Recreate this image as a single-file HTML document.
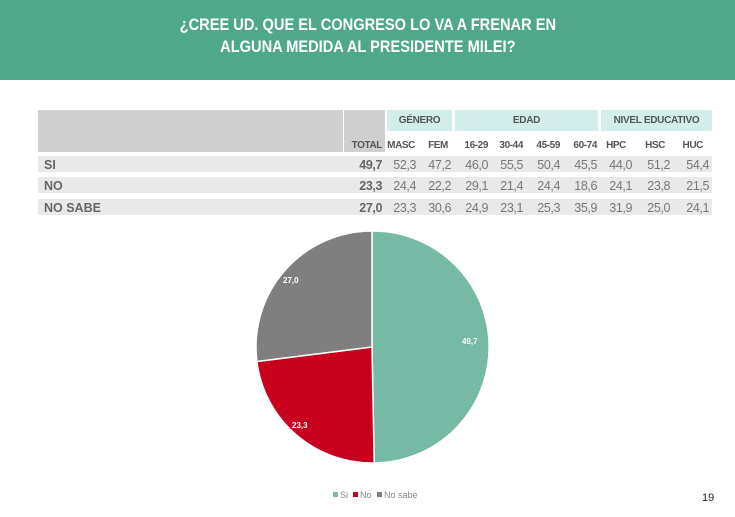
<!DOCTYPE html>
<html><head><meta charset="utf-8"><style>
body{margin:0;width:735px;height:517px;background:#fff;font-family:"Liberation Sans",Arial,sans-serif;position:relative;overflow:hidden}
.hdr{position:absolute;left:0;top:0;width:735px;height:80px;background:#4fa88a}
.ht{position:absolute;left:0;top:14px;width:735px;color:#fff;font-weight:bold;font-size:17px;text-align:center;line-height:22px;transform:scaleX(0.86);transform-origin:370px 0}
.a{position:absolute;box-sizing:border-box}
.t{font-size:10px;font-weight:bold;color:#555;letter-spacing:-0.3px}
</style></head><body>
<div class="hdr"></div>
<div class="ht">¿CREE UD. QUE EL CONGRESO LO VA A FRENAR EN<br>ALGUNA MEDIDA AL PRESIDENTE MILEI?</div>
<div class="a" style="left:38px;top:110px;width:305px;height:42px;background:#cfcfd0"></div>
<div class="a" style="left:344px;top:110px;width:41px;height:42px;background:#cfcfd0"></div>
<div class="a t" style="left:387px;top:110px;width:65px;height:21px;background:#d3eeea;text-align:center;line-height:21px">GÉNERO</div>
<div class="a t" style="left:455px;top:110px;width:143px;height:21px;background:#d3eeea;text-align:center;line-height:21px">EDAD</div>
<div class="a t" style="left:601px;top:110px;width:111px;height:21px;background:#d3eeea;text-align:center;line-height:21px">NIVEL EDUCATIVO</div>
<div class="a" style="left:38px;top:156px;width:674px;height:16px;background:#e9e9ea"></div>
<div class="a" style="left:38px;top:177px;width:674px;height:16px;background:#e9e9ea"></div>
<div class="a" style="left:38px;top:199px;width:674px;height:16px;background:#e9e9ea"></div>
<svg class="a" style="left:0;top:0" width="735" height="517">
<g font-family="Liberation Sans,Arial,sans-serif" text-anchor="end">
<g font-size="10" font-weight="bold" fill="#555" letter-spacing="-0.4">
<text x="382" y="148">TOTAL</text><text x="415" y="148">MASC</text><text x="448" y="148">FEM</text>
<text x="488" y="148">16-29</text><text x="523" y="148">30-44</text><text x="560" y="148">45-59</text><text x="597" y="148">60-74</text>
<text x="626" y="148">HPC</text><text x="665" y="148">HSC</text><text x="703" y="148">HUC</text>
</g>
<g font-size="12.5" font-weight="bold" fill="#666" text-anchor="start">
<text x="44" y="169">SI</text><text x="44" y="190">NO</text><text x="44" y="212">NO SABE</text>
</g>
<g font-size="12.5" font-weight="bold" fill="#666" letter-spacing="-0.4">
<text x="382" y="169">49,7</text><text x="382" y="190">23,3</text><text x="382" y="212">27,0</text>
</g>
<g font-size="12.5" fill="#777" letter-spacing="-0.4">
<text x="416" y="169">52,3</text><text x="451" y="169">47,2</text><text x="488" y="169">46,0</text><text x="523" y="169">55,5</text><text x="560" y="169">50,4</text><text x="597" y="169">45,5</text><text x="632" y="169">44,0</text><text x="670" y="169">51,2</text><text x="709" y="169">54,4</text>
<text x="416" y="190">24,4</text><text x="451" y="190">22,2</text><text x="488" y="190">29,1</text><text x="523" y="190">21,4</text><text x="560" y="190">24,4</text><text x="597" y="190">18,6</text><text x="632" y="190">24,1</text><text x="670" y="190">23,8</text><text x="709" y="190">21,5</text>
<text x="416" y="212">23,3</text><text x="451" y="212">30,6</text><text x="488" y="212">24,9</text><text x="523" y="212">23,1</text><text x="560" y="212">25,3</text><text x="597" y="212">35,9</text><text x="632" y="212">31,9</text><text x="670" y="212">25,0</text><text x="709" y="212">24,1</text>
</g>
</g>
<g stroke="#fff" stroke-width="1.5">
<path d="M372,347 L372,231 A116,116 0 0 1 374.2,463 Z" fill="#76b9a4"/>
<path d="M372,347 L374.2,463 A116,116 0 0 1 256.9,361.5 Z" fill="#c8001e"/>
<path d="M372,347 L256.9,361.5 A116,116 0 0 1 372,231 Z" fill="#7f7f7f"/>
</g>
<g font-family="Liberation Sans,Arial,sans-serif" font-size="8" font-weight="bold" fill="#fff">
<text x="462" y="344">49,7</text><text x="292" y="428">23,3</text><text x="283" y="283">27,0</text>
</g>
<g font-family="Liberation Sans,Arial,sans-serif" font-size="9" fill="#888">
<rect x="333" y="492" width="5" height="5" fill="#76b9a4"/><text x="340" y="498">Si</text>
<rect x="353" y="492" width="5" height="5" fill="#c8001e"/><text x="360" y="498">No</text>
<rect x="377" y="492" width="5" height="5" fill="#7f7f7f"/><text x="384" y="498">No sabe</text>
</g>
<text x="702" y="501" font-family="Liberation Sans,Arial,sans-serif" font-size="11" fill="#222">19</text>
</svg>
</body></html>
